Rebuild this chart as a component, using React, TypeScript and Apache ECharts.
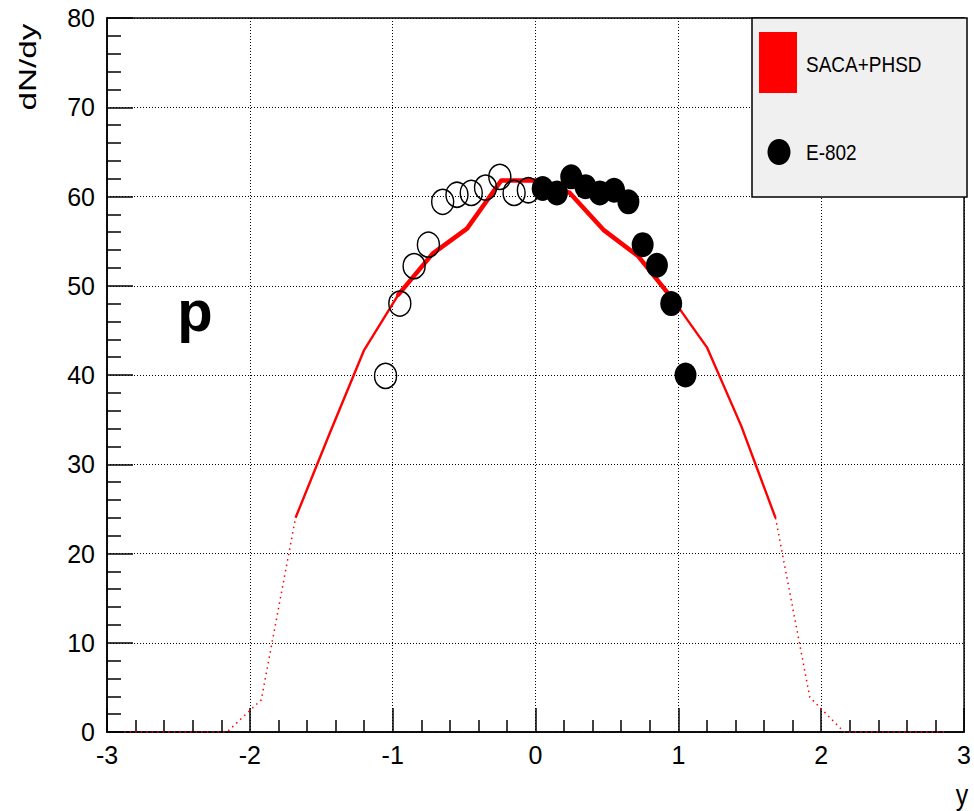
import React, { useEffect, useRef } from "react";
import * as echarts from "echarts";

// SACA+PHSD model curve (rapidity bins)
const modelRapidity = [
  -2.88, -2.64, -2.4, -2.16, -1.92, -1.68, -1.44, -1.2, -0.96, -0.72, -0.48, -0.24, 0,
  0.24, 0.48, 0.72, 0.96, 1.2, 1.44, 1.68, 1.92, 2.16, 2.4, 2.64, 2.88,
];
const modelDNdy = [
  0, 0, 0, 0, 3.6, 24.0, 33.5, 42.8, 49.0, 53.6, 56.4, 61.8, 61.8,
  60.4, 56.2, 53.3, 48.5, 43.1, 34.3, 24.0, 3.9, 0, 0, 0, 0,
];

// E-802 measured points (filled, y > 0)
const e802Rapidity = [0.05, 0.15, 0.25, 0.35, 0.45, 0.55, 0.65, 0.75, 0.85, 0.95, 1.05];
const e802DNdy = [60.9, 60.4, 62.2, 61.1, 60.4, 60.7, 59.4, 54.6, 52.3, 48.0, 40.0];

// E-802 reflected points (open, y < 0)
const e802ReflRapidity = [-0.05, -0.15, -0.25, -0.35, -0.45, -0.55, -0.65, -0.75, -0.85, -0.95, -1.05];
const e802ReflDNdy = [60.7, 60.4, 62.2, 61.0, 60.4, 60.2, 59.4, 54.6, 52.2, 48.0, 39.9];

const xMin = -3;
const xMax = 3;
const yMin = 0;
const yMax = 80;

const FONT = "Liberation Sans";

function pairs(xs: number[], ys: number[], from: number, to: number) {
  const out: number[][] = [];
  for (let i = from; i <= to; i++) out.push([xs[i], ys[i]]);
  return out;
}

export default function App() {
  const ref = useRef<HTMLDivElement>(null);

  useEffect(() => {
    document.body.style.margin = "0";
    if (!ref.current) return;
    const chart = echarts.init(ref.current, undefined, { renderer: "svg" });
    const n = modelRapidity.length;
    const red = "#ff0000";

    chart.setOption({
      animation: false,
      backgroundColor: "#ffffff",
      textStyle: { fontFamily: FONT },
      grid: {
        left: 107,
        right: 8,
        top: 18,
        bottom: 79,
        show: true,
        borderColor: "#000",
        borderWidth: 1.5,
        backgroundColor: "transparent",
      },
      xAxis: {
        type: "value",
        min: xMin,
        max: xMax,
        interval: 1,
        axisLine: { show: true, onZero: false, lineStyle: { color: "#000", width: 1.5 } },
        axisTick: { show: true, inside: true, length: 24, lineStyle: { color: "#000", width: 1.5 } },
        minorTick: { show: true, splitNumber: 5, length: 12, lineStyle: { color: "#000", width: 1.5 } },
        splitLine: { show: true, lineStyle: { color: "#000", width: 1, type: [1, 2] } },
        axisLabel: { color: "#000", fontSize: 25, fontFamily: FONT, margin: 10 },
      },
      yAxis: {
        type: "value",
        min: yMin,
        max: yMax,
        interval: 10,
        axisLine: { show: true, onZero: false, lineStyle: { color: "#000", width: 1.5 } },
        axisTick: { show: true, inside: true, length: 26, lineStyle: { color: "#000", width: 1.5 } },
        minorTick: { show: true, splitNumber: 5, length: 14, lineStyle: { color: "#000", width: 1.5 } },
        splitLine: { show: true, lineStyle: { color: "#000", width: 1, type: [1, 2] } },
        axisLabel: { color: "#000", fontSize: 25, fontFamily: FONT, margin: 12 },
      },
      series: [
        {
          name: "tailL",
          type: "line",
          data: pairs(modelRapidity, modelDNdy, 0, 5),
          showSymbol: false,
          lineStyle: { color: red, width: 1.5, type: [1.5, 4] },
          z: 2,
        },
        {
          name: "tailR",
          type: "line",
          data: pairs(modelRapidity, modelDNdy, n - 6, n - 1),
          showSymbol: false,
          lineStyle: { color: red, width: 1.5, type: [1.5, 4] },
          z: 2,
        },
        {
          name: "mid",
          type: "line",
          data: pairs(modelRapidity, modelDNdy, 5, n - 6),
          showSymbol: false,
          lineStyle: { color: red, width: 2.4 },
          z: 2,
        },
        {
          name: "core",
          type: "line",
          data: pairs(modelRapidity, modelDNdy, 8, n - 9),
          showSymbol: false,
          lineStyle: { color: red, width: 4.5, cap: "round", join: "round" },
          z: 2,
        },
        {
          name: "E-802 reflected",
          type: "scatter",
          data: e802ReflRapidity.map((x, i) => [x, e802ReflDNdy[i]]),
          symbol: "circle",
          symbolSize: [22, 25],
          itemStyle: { color: "rgba(0,0,0,0)", borderColor: "#000", borderWidth: 1.5, opacity: 1 },
          z: 3,
        },
        {
          name: "E-802",
          type: "scatter",
          data: e802Rapidity.map((x, i) => [x, e802DNdy[i]]),
          symbol: "circle",
          symbolSize: [22, 25],
          itemStyle: { color: "#000", opacity: 1 },
          z: 4,
        },
      ],
      graphic: [
        {
          type: "rect",
          z: 100,
          shape: { x: 752, y: 18, width: 215, height: 179 },
          style: { fill: "#f0f0f0", stroke: "#000", lineWidth: 1.5 },
        },
        {
          type: "rect",
          z: 101,
          shape: { x: 759, y: 32, width: 38, height: 61 },
          style: { fill: red },
        },
        {
          type: "text",
          z: 101,
          x: 806,
          y: 64,
          scaleY: 1.15,
          style: {
            text: "SACA+PHSD",
            fontSize: 19,
            fontFamily: FONT,
            fill: "#000",
            align: "left",
            verticalAlign: "middle",
          },
        },
        {
          type: "ellipse",
          z: 101,
          shape: { cx: 779, cy: 152, rx: 11.5, ry: 13 },
          style: { fill: "#000" },
        },
        {
          type: "text",
          z: 101,
          x: 806,
          y: 152,
          scaleY: 1.15,
          style: {
            text: "E-802",
            fontSize: 19,
            fontFamily: FONT,
            fill: "#000",
            align: "left",
            verticalAlign: "middle",
          },
        },
        {
          type: "text",
          z: 101,
          x: 195,
          y: 310,
          style: {
            text: "p",
            fontSize: 58,
            fontWeight: "bold",
            fontFamily: FONT,
            fill: "#000",
            align: "center",
            verticalAlign: "middle",
          },
        },
        {
          type: "text",
          z: 101,
          x: 28,
          y: 67,
          rotation: Math.PI / 2,
          scaleX: 1.45,
          style: {
            text: "dN/dy",
            fontSize: 23,
            fontFamily: FONT,
            fill: "#000",
            align: "center",
            verticalAlign: "middle",
          },
        },
        {
          type: "text",
          z: 101,
          x: 962,
          y: 795,
          scaleY: 1.2,
          style: {
            text: "y",
            fontSize: 25,
            fontFamily: FONT,
            fill: "#000",
            align: "center",
            verticalAlign: "middle",
          },
        },
      ],
    });

    return () => chart.dispose();
  }, []);

  return <div ref={ref} style={{ width: 974, height: 811 }} />;
}
